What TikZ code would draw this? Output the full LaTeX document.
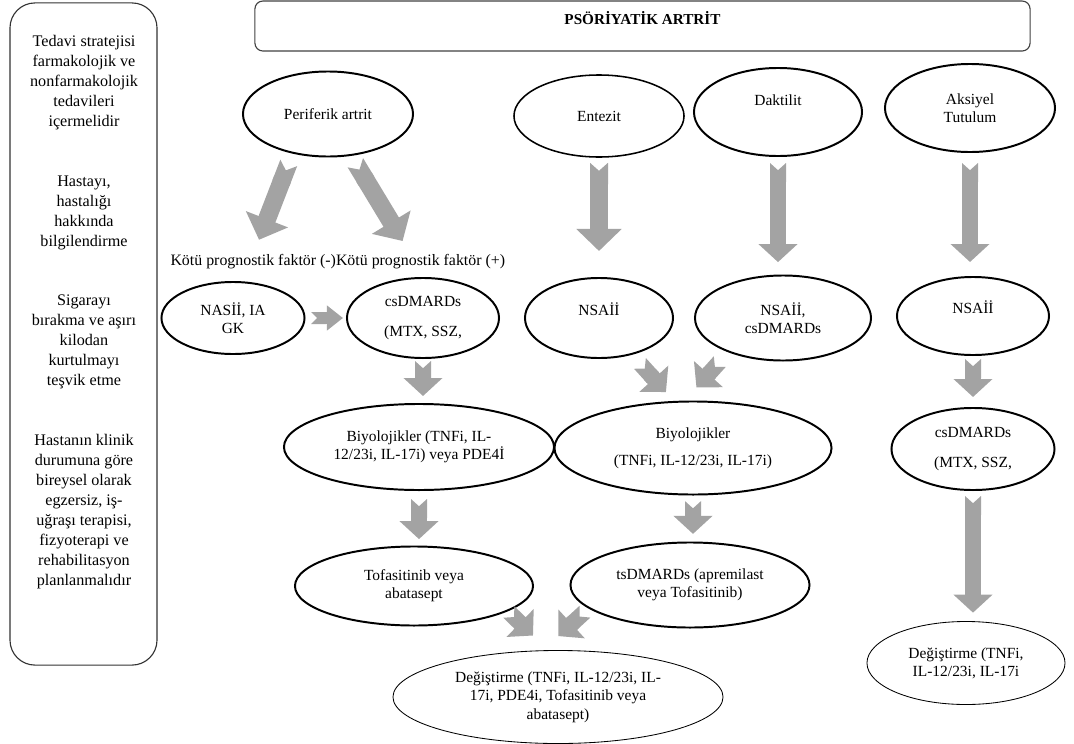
\documentclass[tikz,border=0pt]{standalone}
\usepackage{fontspec}
\setmainfont{Liberation Serif}
\usetikzlibrary{shapes.geometric,arrows.meta}

\definecolor{arrowgray}{RGB}{163,163,163}

\begin{document}
\begin{tikzpicture}[x=0.025cm,y=-0.025cm,
    oval/.style={ellipse, draw, line width=1.4pt, inner sep=0pt, align=center,
                 font=\fontsize{11}{13}\selectfont},
    thinoval/.style={oval, line width=0.6pt},
    note/.style={inner sep=0pt, outer sep=0pt, font=\fontsize{11.3}{13}\selectfont},
    bigarrow/.style={draw=arrowgray, line width=0.45cm,
                     {Triangle Cap[reversed,length=0.2cm]}-{Triangle[width=1.1cm,length=0.55cm]}},
    midarrow/.style={draw=arrowgray, line width=0.4cm,
                     {Triangle Cap[reversed,length=0.18cm]}-{Triangle[width=0.95cm,length=0.45cm]}},
    smallarrow/.style={draw=arrowgray, line width=0.3cm,
                       {Triangle Cap[reversed,length=0.15cm]}-{Triangle[width=0.6cm,length=0.4cm]}}]
  \useasboundingbox (0,0) rectangle (1074,744);

  % side panel and title
  \node[draw=black!80, line width=0.8pt, rounded corners=0.625cm,
        minimum width=3.675cm, minimum height=16.55cm] (side) at (83.5,334) {};
  \node[align=center, font=\fontsize{11.5}{14.2}\selectfont] (sidetxt) at (84,312)
    {Tedavi stratejisi\\farmakolojik ve\\nonfarmakolojik\\tedavileri\\içermelidir\\[28.4pt]
     Hastayı,\\hastalığı\\hakkında\\bilgilendirme\\[28.4pt]
     Sigarayı\\bırakma ve aşırı\\kilodan\\kurtulmayı\\teşvik etme\\[28.4pt]
     Hastanın klinik\\durumuna göre\\bireysel olarak\\egzersiz, iş-\\uğraşı terapisi,\\fizyoterapi ve\\rehabilitasyon\\planlanmalıdır};
  \node[draw=black!75, line width=0.8pt, rounded corners=0.2cm,
        minimum width=19.375cm, minimum height=1.25cm, text height=7.5pt, text depth=9.5pt,
        font=\fontsize{10.8}{13}\selectfont\bfseries] (title) at (642.5,26) {PSÖRİYATİK ARTRİT};

  % first row
  \node[oval, minimum width=4.25cm, minimum height=2.125cm] (peri) at (328,114) {Periferik artrit};
  \node[thinoval, line width=1.1pt, minimum width=4.25cm, minimum height=2.05cm] (ent) at (599,116) {Entezit};
  \node[oval, minimum width=4.2cm, minimum height=2.2cm] (dak) at (778,112) {Daktilit\\[4pt]~};
  \node[oval, minimum width=4.25cm, minimum height=2.2cm] (aks) at (970,108) {Aksiyel\\Tutulum};

  \node[note, anchor=east] (kneg) at (336,262) {Kötü prognostik faktör (-)};
  \node[note, anchor=west] (kpos) at (336,262) {Kötü prognostik faktör (+)};

  % second row
  \node[oval, minimum width=3.575cm, minimum height=1.8cm] (nasii) at (233,318) {NASİİ, IA\\GK};
  \node[oval, minimum width=3.8cm, minimum height=2cm] (csl) at (423,318) {csDMARDs\\[0.3cm](MTX, SSZ,};
  \node[oval, minimum width=3.7cm, minimum height=2cm] (nsa1) at (599,318) {NSAİİ\\~};
  \node[oval, minimum width=4.4cm, minimum height=2.125cm] (nsa2) at (783,318) {NSAİİ,\\csDMARDs};
  \node[oval, minimum width=3.8cm, minimum height=1.95cm] (nsa3) at (973,316) {NSAİİ\\~};

  % third row
  \node[oval, minimum width=6.75cm, minimum height=2.15cm] (biyl) at (419,447)
    {Biyolojikler (TNFi, IL-\\12/23i, IL-17i) veya PDE4İ};
  \node[oval, minimum width=6.925cm, minimum height=2.325cm] (biyr) at (693,448)
    {Biyolojikler\\[0.22cm](TNFi, IL-12/23i, IL-17i)};
  \node[oval, minimum width=4.075cm, minimum height=2.05cm] (csr) at (973,449) {csDMARDs\\[0.3cm](MTX, SSZ,};

  % fourth row
  \node[oval, minimum width=5.95cm, minimum height=1.975cm] (tofa) at (414,586) {Tofasitinib veya\\abatasept};
  \node[oval, minimum width=5.975cm, minimum height=2.125cm] (tsd) at (690,585) {tsDMARDs (apremilast\\veya Tofasitinib)};

  % last row
  \node[thinoval, minimum width=8.25cm, minimum height=2.325cm] (degl) at (558,697)
    {Değiştirme (TNFi, IL-12/23i, IL-\\17i, PDE4i, Tofasitinib veya\\abatasept)};
  \node[thinoval, minimum width=4.95cm, minimum height=2.075cm] (degr) at (966,663)
    {Değiştirme (TNFi,\\IL-12/23i, IL-17i};

  % arrows
  \draw[bigarrow, shorten <=0.25cm, shorten >=0.4cm] (peri.228) -- (kneg.north);
  \draw[bigarrow, shorten <=0.2cm, shorten >=0.4cm] (peri.299) -- (kpos.143);
  \draw[smallarrow, shorten <=0.14cm, shorten >=0.075cm] (nasii.east) -- (csl.west);
  \draw[midarrow, shorten <=0.05cm, shorten >=0.175cm] (csl.south) -- (csl.south |- biyl.north);
  \draw[midarrow, shorten <=0.2cm, shorten >=0.16cm] (biyl.south) -- (biyl.south |- tofa.north);
  \draw[midarrow, shorten <=0.03cm, shorten >=0.525cm] (tofa.345) -- (degl.102);
  \draw[midarrow, shorten <=0.12cm, shorten >=0.525cm] (tsd.193) -- (degl.108);

  \draw[bigarrow, shorten <=0.125cm, shorten >=0.65cm] (ent.south) -- (ent.south |- nsa1.north);
  \draw[midarrow, shorten <=0.15cm, shorten >=0.31cm] (dak.south) -- (dak.south |- nsa2.north);
  \draw[midarrow, shorten <=0.29cm, shorten >=0.3cm] (nsa1.312) -- (biyr.112);
  \draw[midarrow, shorten <=0.315cm, shorten >=0.44cm] (nsa2.212) -- (biyr.100);
  \draw[midarrow, shorten <=0.14cm, shorten >=0.19cm] (biyr.south) -- (biyr.south |- tsd.north);

  \draw[midarrow, shorten <=0.25cm, shorten >=0.35cm] (aks.south) -- (aks.south |- nsa3.north);
  \draw[midarrow, shorten <=0.075cm, shorten >=0.25cm] (nsa3.south) -- (nsa3.south |- csr.north);
  \draw[midarrow, shorten <=0.125cm, shorten >=0.21cm] (csr.south) -- (csr.south |- degr.north);
\end{tikzpicture}
\end{document}
